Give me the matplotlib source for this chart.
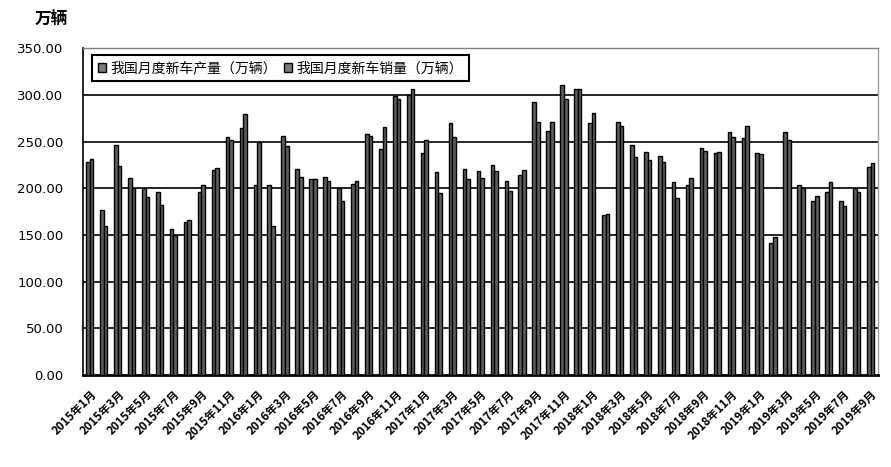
import matplotlib
matplotlib.use("Agg")
import matplotlib.pyplot as plt
import numpy as np
from matplotlib.patches import Patch

plt.rcParams['font.family'] = ['Noto Sans CJK SC', 'DejaVu Sans']

# Monthly data, 2015-01 .. 2019-09 (万辆)
production = [228, 177, 246, 211, 200, 196, 156, 164, 196, 220, 255, 264,
              203, 203, 256, 221, 210, 212, 200, 205, 258, 242, 299, 300,
              238, 217, 270, 221, 218, 225, 208, 214, 292, 261, 311, 306,
              270, 171, 271, 246, 239, 235, 207, 203, 243, 238, 260, 254,
              238, 141, 260, 203, 186, 196, 186, 200, 223]
sales = [231, 160, 224, 200, 191, 182, 150, 166, 203, 222, 252, 279,
         250, 159, 245, 212, 210, 208, 186, 208, 256, 265, 295, 306,
         252, 195, 255, 210, 211, 218, 197, 220, 271, 271, 295, 306,
         281, 172, 267, 233, 230, 228, 189, 211, 240, 239, 255, 267,
         237, 148, 252, 200, 192, 207, 181, 196, 227]
tick_labels = ["2015年1月", "2015年3月", "2015年5月", "2015年7月", "2015年9月", "2015年11月",
               "2016年1月", "2016年3月", "2016年5月", "2016年7月", "2016年9月", "2016年11月",
               "2017年1月", "2017年3月", "2017年5月", "2017年7月", "2017年9月", "2017年11月",
               "2018年1月", "2018年3月", "2018年5月", "2018年7月", "2018年9月", "2018年11月",
               "2019年1月", "2019年3月", "2019年5月", "2019年7月", "2019年9月"]
series_names = ["我国月度新车产量（万辆）", "我国月度新车销量（万辆）"]
y_ticks = [0, 50, 100, 150, 200, 250, 300, 350]

fig = plt.figure(figsize=(8.91, 4.67), dpi=100)
ax = fig.add_axes([0.093, 0.197, 0.892, 0.700])

x = np.arange(len(production))
w = 0.26
bar_fc = '#5e5e5e'
ax.bar(x - w / 2, production, width=w, facecolor=bar_fc, edgecolor='black', linewidth=1.0, zorder=3)
ax.bar(x + w / 2, sales, width=w, facecolor=bar_fc, edgecolor='black', linewidth=1.0, zorder=3)

ax.set_xlim(-0.5, len(production) - 0.5)
ax.set_ylim(0, 350)
ax.set_yticks(y_ticks)
ax.set_yticklabels([f"{v:.2f}" for v in y_ticks], fontsize=9.5, family=['DejaVu Sans'])
for v in y_ticks[1:-1]:
    ax.axhline(v, color='black', linewidth=1.2, zorder=1)

ax.set_xticks(x[::2])
ax.set_xticklabels(tick_labels, rotation=45, ha='right', va='top', rotation_mode='anchor',
                   fontsize=8.3, fontweight='bold')
ax.tick_params(axis='both', length=0)
ax.tick_params(axis='y', pad=14)
ax.tick_params(axis='x', pad=9)

ax.spines['left'].set_color('black')
ax.spines['left'].set_linewidth(1.2)
ax.spines['bottom'].set_color('black')
ax.spines['bottom'].set_linewidth(2)
ax.spines['top'].set_color('#808080')
ax.spines['top'].set_linewidth(1.0)
ax.spines['right'].set_color('#a0a0a0')
ax.spines['right'].set_linewidth(1.0)

handles = [Patch(facecolor='#7a7a7a', edgecolor='black', linewidth=1) for _ in series_names]
leg = ax.legend(handles, series_names, ncol=2, loc='upper left', bbox_to_anchor=(0.011, 0.979),
                borderaxespad=0, fancybox=False, framealpha=1, edgecolor='black',
                fontsize=10, handlelength=0.6, handleheight=0.6, handletextpad=0.3,
                columnspacing=0.5, borderpad=0.45)
leg.get_frame().set_linewidth(1.5)

fig.text(0.039, 0.957, "万辆", fontsize=12, fontweight='bold', va='center', ha='left')

fig.savefig("out.png", dpi=100, facecolor='white')
